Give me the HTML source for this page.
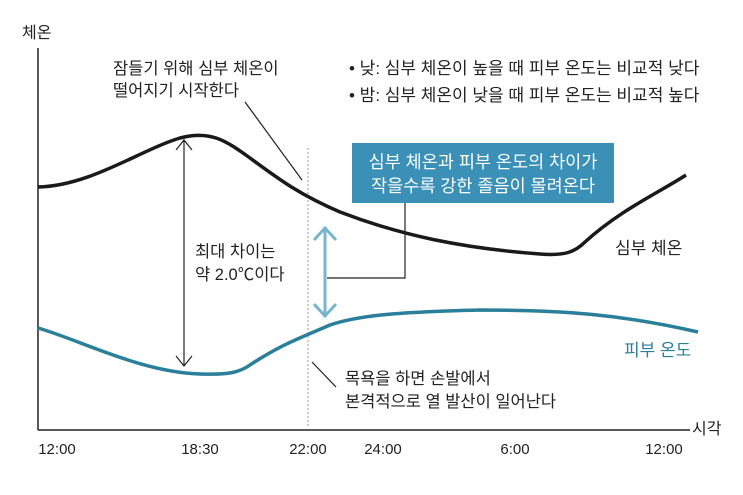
<!DOCTYPE html><html><head><meta charset="utf-8"><style>
body{margin:0;background:#fff}
text{font-family:"Liberation Sans","Noto Sans CJK KR",sans-serif;fill:#222}
</style></head><body>
<svg width="743" height="490" viewBox="0 0 743 490" xmlns="http://www.w3.org/2000/svg">
<rect width="743" height="490" fill="#fff"/>
<line x1="38" y1="48" x2="38" y2="430" stroke="#222" stroke-width="1.5"/>
<line x1="38" y1="430" x2="690" y2="430" stroke="#222" stroke-width="1.5"/>
<text x="22" y="38" font-size="16">체온</text>
<text x="692" y="434" font-size="16">시각</text>
<g font-size="15" text-anchor="middle">
<text x="57" y="454">12:00</text><text x="200" y="454">18:30</text><text x="308" y="454">22:00</text>
<text x="383" y="454">24:00</text><text x="515" y="454">6:00</text><text x="664" y="454">12:00</text></g>
<line x1="308" y1="148" x2="308" y2="428" stroke="#999" stroke-width="1" stroke-dasharray="2,2"/>
<path d="M38,187 C90,186 140,150 180,138 C210,130 225,140 250,158 C280,180 300,195 340,212 C400,235 460,248 540,254 C565,256 575,252 585,242 C620,210 660,192 686,175" fill="none" stroke="#1a1a1a" stroke-width="3.5"/>
<path d="M38,328 C80,340 140,372 200,374 C230,375 240,372 250,365 C280,345 300,338 330,325 C360,315 400,312 480,310 C560,310 620,314 698,332" fill="none" stroke="#2a7f9a" stroke-width="3.5"/>
<g stroke="#222" stroke-width="1.2" fill="none">
<line x1="184" y1="140" x2="184" y2="365"/>
<path d="M176,150 L184,140 L192,150"/><path d="M176,356 L184,366 L192,356"/>
<line x1="245" y1="102" x2="302" y2="180"/>
<line x1="312" y1="362" x2="336" y2="387"/>
<path d="M405,203 L405,278 L327,278"/>
</g>
<g stroke="#7ab4cf" stroke-width="3" fill="none">
<line x1="325" y1="228" x2="325" y2="315"/>
<path d="M314,240 L325,228 L336,240"/><path d="M314,304 L325,316 L336,304"/>
</g>
<rect x="352" y="143" width="262" height="60" fill="#3a90b6"/>
<text x="483" y="168" font-size="17.5" text-anchor="middle" style="fill:#fff">심부 체온과 피부 온도의 차이가</text>
<text x="483" y="192" font-size="17.5" text-anchor="middle" style="fill:#fff">작을수록 강한 졸음이 몰려온다</text>
<text x="113" y="74" font-size="16.5">잠들기 위해 심부 체온이</text>
<text x="113" y="96" font-size="16.5">떨어지기 시작한다</text>
<text x="349" y="74" font-size="17">• 낮: 심부 체온이 높을 때 피부 온도는 비교적 낮다</text>
<text x="349" y="101" font-size="17">• 밤: 심부 체온이 낮을 때 피부 온도는 비교적 높다</text>
<text x="195" y="257" font-size="16.5">최대 차이는</text>
<text x="195" y="280" font-size="16.5">약 2.0℃이다</text>
<text x="615" y="254" font-size="17">심부 체온</text>
<text x="624" y="356" font-size="17" style="fill:#2a7f9a">피부 온도</text>
<text x="345" y="384" font-size="16.5">목욕을 하면 손발에서</text>
<text x="345" y="407" font-size="16.5">본격적으로 열 발산이 일어난다</text>
</svg>
</body></html>
